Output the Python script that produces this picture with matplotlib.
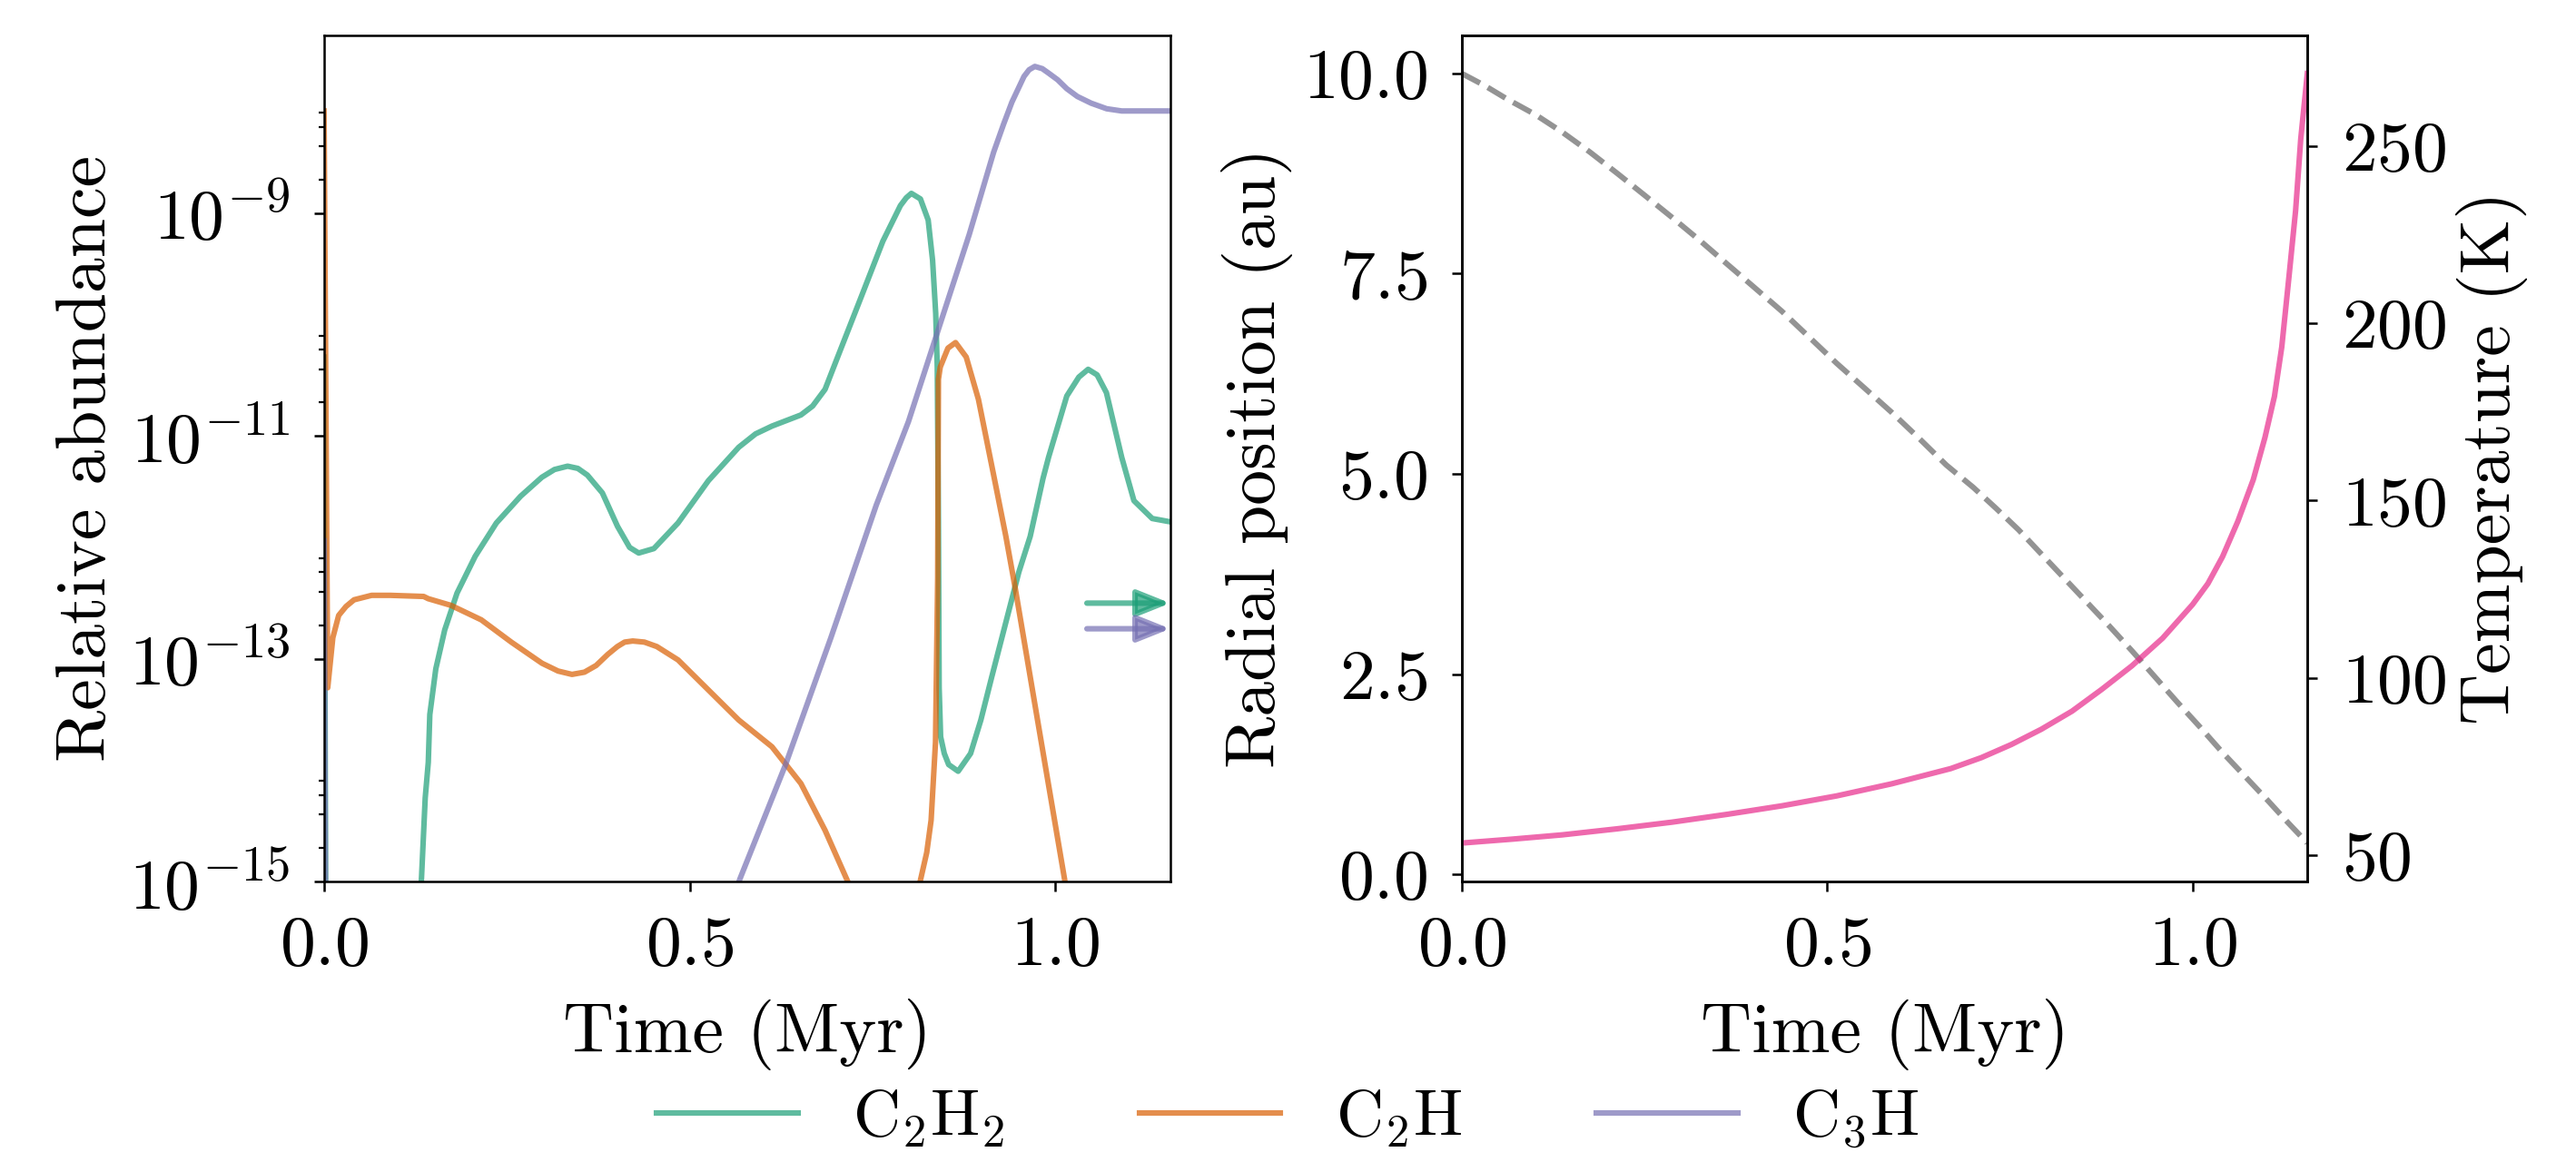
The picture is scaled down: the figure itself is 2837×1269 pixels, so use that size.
#!/usr/bin/env python3
"""
Abundance evolution of small hydrocarbons along a drifting pebble track,
with the radial position and local temperature of the track.
"""

import numpy as np
import matplotlib
matplotlib.use("Agg")
import matplotlib.pyplot as plt
from matplotlib.ticker import FixedLocator, LogFormatterSciNotation, NullFormatter


# =============================================================================
# DATA
# =============================================================================

# Left panel: relative abundances (log10) versus time [Myr]
t_c2h2 = [0.000, 0.003, 0.125, 0.133, 0.1383, 0.1425, 0.1446, 0.1528, 0.165, 0.1818,
          0.2066, 0.2356, 0.2687, 0.2977, 0.315, 0.333, 0.347, 0.360, 0.3805, 0.4012,
          0.4178, 0.4302, 0.451, 0.484, 0.5255, 0.567, 0.590, 0.6124, 0.652, 0.668,
          0.685, 0.701, 0.735, 0.764, 0.788, 0.796, 0.803, 0.8154, 0.826, 0.832,
          0.8363, 0.8384, 0.840, 0.841, 0.843, 0.848, 0.854, 0.867, 0.884, 0.898,
          0.913, 0.950, 0.9655, 0.983, 0.9906, 1.0155, 1.032, 1.0447, 1.057, 1.0697,
          1.0906, 1.1073, 1.1323, 1.157]
log_c2h2 = [-10.29, -17.0, -17.0, -15.0, -14.25, -13.93, -13.50, -13.09, -12.74, -12.41,
            -12.08, -11.78, -11.54, -11.37, -11.30, -11.27, -11.29, -11.35, -11.51, -11.81,
            -12.00, -12.05, -12.01, -11.78, -11.40, -11.10, -10.98, -10.91, -10.81, -10.73,
            -10.58, -10.31, -9.74, -9.25, -8.93, -8.86, -8.82, -8.87, -9.06, -9.42,
            -9.90, -10.38, -11.77, -13.26, -13.70, -13.85, -13.95, -14.01, -13.85, -13.55,
            -13.16, -12.22, -11.90, -11.38, -11.19, -10.64, -10.47, -10.40, -10.45, -10.61,
            -11.19, -11.58, -11.74, -11.77]

t_c2h = [0.000, 0.005, 0.012, 0.020, 0.030, 0.041, 0.065, 0.0907, 0.1362, 0.1424,
         0.1735, 0.215, 0.256, 0.298, 0.320, 0.339, 0.356, 0.372, 0.388, 0.401,
         0.411, 0.422, 0.438, 0.455, 0.484, 0.5255, 0.567, 0.6124, 0.652, 0.685,
         0.716, 0.735, 0.800, 0.815, 0.824, 0.830, 0.836, 0.837, 0.839, 0.840,
         0.8425, 0.853, 0.8634, 0.878, 0.8947, 0.9155, 0.9322, 0.9446, 0.975, 1.013,
         1.030, 1.157]
log_c2h = [-8.08, -13.26, -12.81, -12.61, -12.53, -12.47, -12.43, -12.43, -12.44, -12.46,
           -12.52, -12.65, -12.85, -13.04, -13.11, -13.14, -13.12, -13.06, -12.96, -12.89,
           -12.85, -12.84, -12.85, -12.89, -13.01, -13.28, -13.55, -13.79, -14.12, -14.54,
           -15.0, -15.6, -15.6, -15.0, -14.74, -14.45, -13.75, -13.26, -12.27, -10.49,
           -10.38, -10.21, -10.16, -10.29, -10.67, -11.35, -11.90, -12.35, -13.53, -15.0,
           -16.0, -17.0]

t_c3h = [0.000, 0.003, 0.500, 0.569, 0.631, 0.693, 0.755, 0.799, 0.8405, 0.8821,
         0.9155, 0.929, 0.9405, 0.957, 0.964, 0.9718, 0.982, 0.9906, 1.003, 1.0155,
         1.030, 1.0488, 1.070, 1.0906, 1.157]
log_c3h = [-11.94, -17.0, -16.2, -14.97, -13.95, -12.81, -11.62, -10.87, -10.03, -9.19,
           -8.45, -8.20, -8.00, -7.77, -7.71, -7.68, -7.70, -7.74, -7.80, -7.88,
           -7.95, -8.01, -8.06, -8.08, -8.08]

# Reference abundances marked by arrows on the right edge (log10)
arrow_log_c2h2 = -12.50
arrow_log_c3h = -12.73
arrow_t_start = 1.043

# Right panel: radial position [au] and temperature [K] versus time [Myr]
t_track = [0.000, 0.031, 0.062, 0.100, 0.137, 0.175, 0.213, 0.250, 0.288, 0.325,
           0.363, 0.400, 0.438, 0.475, 0.513, 0.550, 0.588, 0.625, 0.663, 0.700,
           0.731, 0.762, 0.793, 0.824, 0.855, 0.886, 0.917, 0.948, 0.979, 1.010,
           1.041, 1.072, 1.103, 1.130, 1.157]
r_au = [10.0, 9.85, 9.68, 9.49, 9.27, 9.02, 8.75, 8.48, 8.20, 7.92,
        7.62, 7.33, 7.03, 6.71, 6.38, 6.08, 5.77, 5.45, 5.11, 4.83,
        4.57, 4.30, 4.00, 3.70, 3.40, 3.10, 2.79, 2.47, 2.15, 1.84,
        1.52, 1.22, 0.92, 0.65, 0.39]

t_temp = [0.000, 0.069, 0.137, 0.212, 0.288, 0.363, 0.438, 0.513, 0.588, 0.669,
          0.711, 0.752, 0.793, 0.835, 0.876, 0.917, 0.959, 1.000, 1.021, 1.041,
          1.062, 1.083, 1.099, 1.112, 1.122, 1.132, 1.141, 1.148, 1.157]
temp_k = [53.4, 54.5, 55.7, 57.4, 59.3, 61.5, 63.9, 66.7, 70.1, 74.4,
          77.5, 81.2, 85.5, 90.6, 96.8, 103.4, 111.2, 120.7, 126.6, 134.2,
          144.2, 155.9, 167.8, 179.4, 193.3, 213.4, 231.9, 252.0, 270.5]

T_END = 1.157


# =============================================================================
# STYLE
# =============================================================================

plt.rcParams.update({
    "font.family": "serif",
    "font.serif": ["cmr10"],
    "mathtext.fontset": "cm",
    "axes.formatter.use_mathtext": True,
    "font.size": 28,
    "axes.linewidth": 0.9,
    "xtick.major.size": 4.0,
    "ytick.major.size": 4.0,
    "xtick.minor.size": 2.3,
    "ytick.minor.size": 2.3,
    "xtick.major.width": 0.9,
    "ytick.major.width": 0.9,
    "ytick.minor.width": 0.8,
    "xtick.major.pad": 9.5,
    "ytick.major.pad": 9.5,
})

cols = plt.get_cmap("Dark2").colors
C_C2H2 = cols[0]
C_C2H = cols[1]
C_C3H = cols[2]
C_TEMP = cols[3]
C_RAD = cols[7]
ALPHA = 0.7
LW = 2.2


# =============================================================================
# FIGURE
# =============================================================================

fig = plt.figure(figsize=(14.185, 6.345), dpi=200)
ax1 = fig.add_axes([0.1258, 0.2348, 0.3285, 0.7348])
ax2 = fig.add_axes([0.5675, 0.2348, 0.3282, 0.7348])

# -------------------------------------------------------------------------
# Left: abundances
# -------------------------------------------------------------------------
l1, = ax1.plot(t_c2h2, 10.0 ** np.array(log_c2h2), color=C_C2H2, alpha=ALPHA,
               lw=LW, label=r"$\mathrm{C_2H_2}$")
l2, = ax1.plot(t_c2h, 10.0 ** np.array(log_c2h), color=C_C2H, alpha=ALPHA,
               lw=LW, label=r"$\mathrm{C_2H}$")
l3, = ax1.plot(t_c3h, 10.0 ** np.array(log_c3h), color=C_C3H, alpha=ALPHA,
               lw=LW, label=r"$\mathrm{C_3H}$")

for level, c in [(arrow_log_c2h2, C_C2H2), (arrow_log_c3h, C_C3H)]:
    ax1.annotate(
        "",
        xy=(T_END, 10.0 ** level),
        xytext=(arrow_t_start, 10.0 ** level),
        arrowprops=dict(
            arrowstyle="-|>,head_length=0.55,head_width=0.22",
            mutation_scale=20,
            color=c,
            alpha=ALPHA,
            lw=LW,
            shrinkA=0,
            shrinkB=0,
        ),
    )

ax1.set_yscale("log")
ax1.set_xlim(0, T_END)
ax1.set_ylim(1e-15, 4e-8)

decades = [1e-15, 1e-13, 1e-11, 1e-9]
ax1.yaxis.set_major_locator(FixedLocator(decades))
ax1.yaxis.set_major_formatter(LogFormatterSciNotation())
ax1.yaxis.set_minor_locator(FixedLocator([m * d for d in decades for m in (2, 4, 6, 8)]))
ax1.yaxis.set_minor_formatter(NullFormatter())
ax1.set_xticks([0.0, 0.5, 1.0])

ax1.set_xlabel("Time (Myr)", labelpad=8)
ax1.set_ylabel("Relative abundance")

# -------------------------------------------------------------------------
# Right: radial position and temperature
# -------------------------------------------------------------------------
ax2.plot(t_track, r_au, "--", color=C_RAD, alpha=ALPHA, lw=LW)
ax2.set_xlim(0, T_END)
ax2.set_xticks([0.0, 0.5, 1.0])
ax2.set_yticks([0.0, 2.5, 5.0, 7.5, 10.0])
ax2.set_xlabel("Time (Myr)", labelpad=8)
ax2.set_ylabel("Radial position (au)")

ax2b = ax2.twinx()
ax2b.plot(t_temp, temp_k, color=C_TEMP, alpha=ALPHA, lw=LW)
ax2b.set_yticks([50, 100, 150, 200, 250])
ax2b.set_ylabel("Temperature (K)")

fig.legend(
    [l1, l2, l3],
    [l.get_label() for l in (l1, l2, l3)],
    loc="lower center",
    ncol=3,
    frameon=False,
    fontsize=26,
    handlelength=2.15,
    handletextpad=0.84,
    columnspacing=2.05,
    bbox_to_anchor=(0.5, -0.05),
)

fig.savefig("out.png", dpi=200)
